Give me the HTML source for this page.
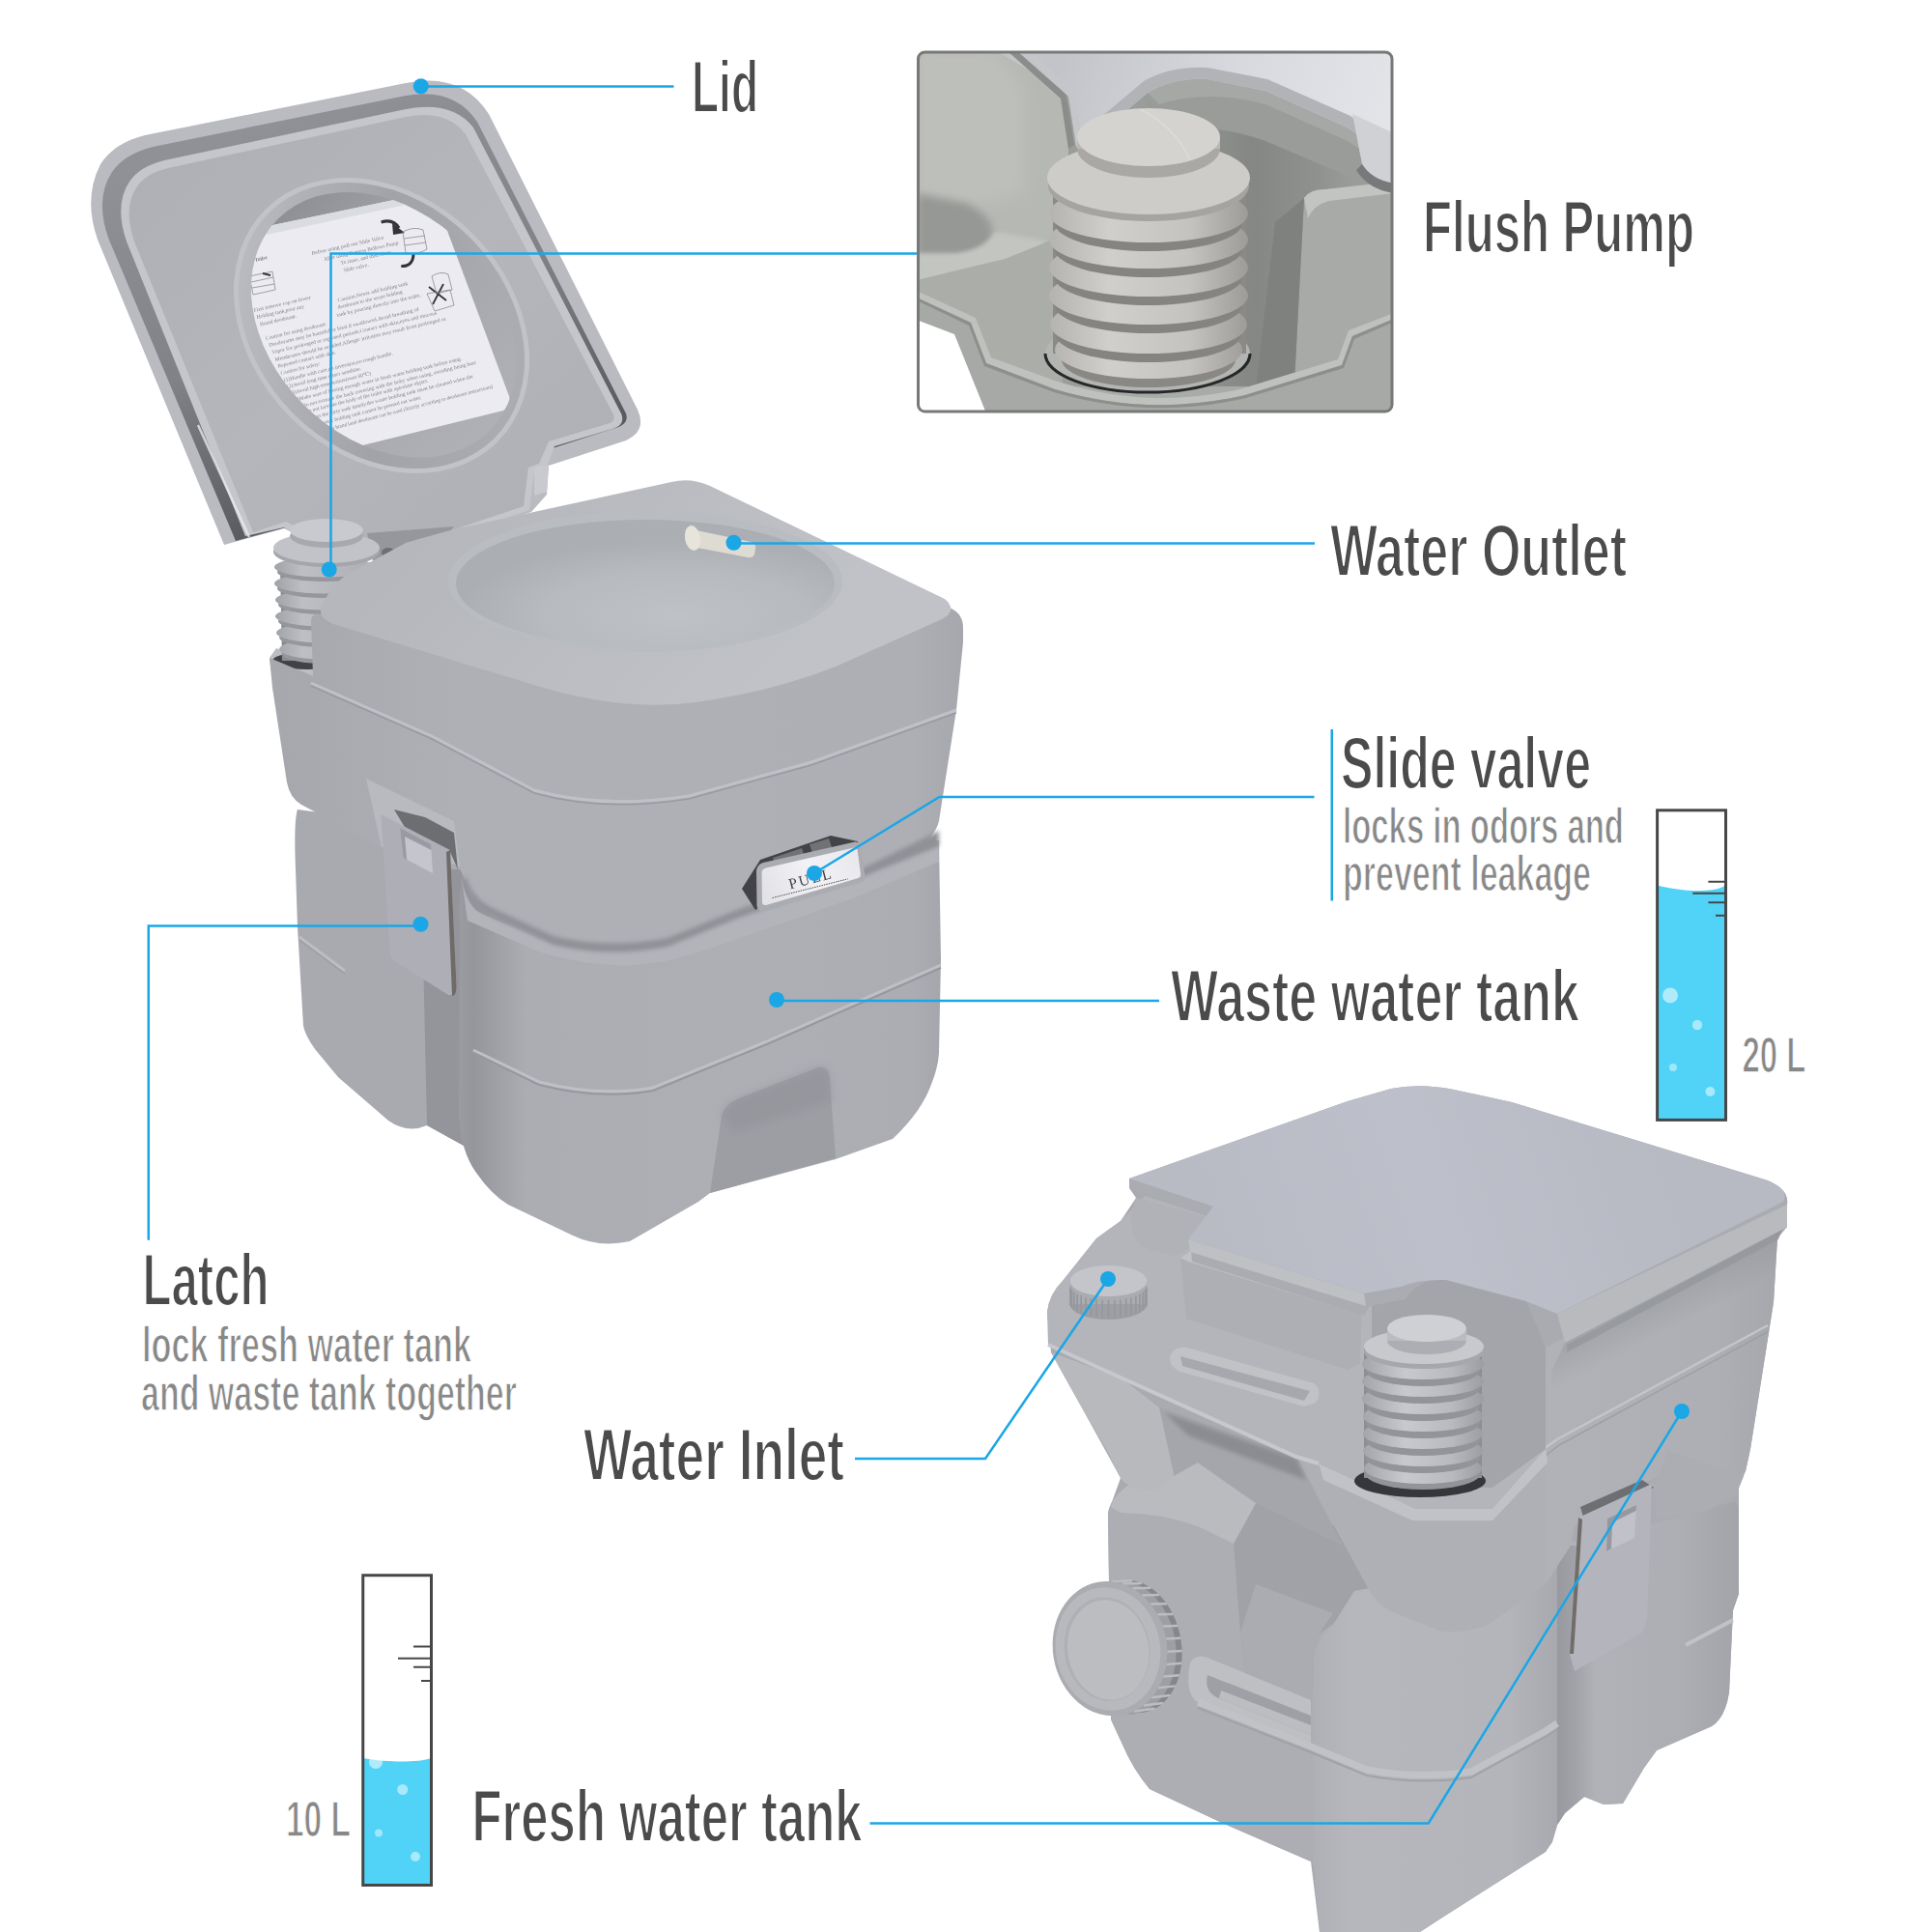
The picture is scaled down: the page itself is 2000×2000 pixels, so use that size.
<!DOCTYPE html>
<html lang="en"><head><meta charset="utf-8"><title>Portable toilet features</title>
<style>html,body{margin:0;padding:0;background:#fff}body{width:2000px;height:2000px;overflow:hidden}svg{display:block}</style>
</head><body>
<svg width="2000" height="2000" viewBox="0 0 2000 2000">
<defs>
<linearGradient id="gLidFace" x1="0" y1="0" x2="1" y2="1">
  <stop offset="0" stop-color="#a8aaaf"/><stop offset=".5" stop-color="#afb1b6"/><stop offset="1" stop-color="#a8aaaf"/>
</linearGradient>
<linearGradient id="gLidWall" gradientUnits="userSpaceOnUse" x1="120" y1="180" x2="250" y2="560">
  <stop offset="0" stop-color="#8a8c91"/><stop offset=".55" stop-color="#7b7d82"/><stop offset="1" stop-color="#55565a"/>
</linearGradient>
<linearGradient id="gOvalFloor" gradientUnits="userSpaceOnUse" x1="-150" y1="0" x2="150" y2="0">
  <stop offset="0" stop-color="#8a8c91"/><stop offset=".3" stop-color="#9c9ea3"/><stop offset="1" stop-color="#a9abb0"/>
</linearGradient>
<clipPath id="cpOval"><ellipse cx="0" cy="0" rx="152" ry="112"/></clipPath>
<filter id="blur1"><feGaussianBlur stdDeviation="1"/></filter>
<filter id="blur2"><feGaussianBlur stdDeviation="2"/></filter>
<filter id="blur4"><feGaussianBlur stdDeviation="4"/></filter>
<filter id="blur8"><feGaussianBlur stdDeviation="8"/></filter>
<filter id="blur14"><feGaussianBlur stdDeviation="14"/></filter>
<linearGradient id="gDeck" gradientUnits="userSpaceOnUse" x1="500" y1="500" x2="760" y2="740">
  <stop offset="0" stop-color="#b0b2b7"/><stop offset="1" stop-color="#bbbdc1"/>
</linearGradient>
<radialGradient id="gBowl" gradientUnits="userSpaceOnUse" cx="700" cy="640" r="230" gradientTransform="translate(0 420) scale(1 .34)">
  <stop offset="0" stop-color="#b9bcbf"/><stop offset=".6" stop-color="#b2b5b8"/><stop offset="1" stop-color="#a6a9ad"/>
</radialGradient>
<linearGradient id="gUpFront" gradientUnits="userSpaceOnUse" x1="300" y1="0" x2="1000" y2="0">
  <stop offset="0" stop-color="#a1a3a8"/><stop offset=".25" stop-color="#a9abb0"/><stop offset=".6" stop-color="#a9abb0"/><stop offset=".92" stop-color="#a8aaaf"/><stop offset="1" stop-color="#a0a2a7"/>
</linearGradient>
<linearGradient id="gLowFront" gradientUnits="userSpaceOnUse" x1="300" y1="0" x2="980" y2="0">
  <stop offset="0" stop-color="#9c9ea3"/><stop offset=".2" stop-color="#a4a6ab"/><stop offset=".28" stop-color="#8f9196"/><stop offset=".36" stop-color="#a6a8ad"/><stop offset=".7" stop-color="#a8aaaf"/><stop offset=".95" stop-color="#a6a8ad"/><stop offset="1" stop-color="#9ea0a5"/>
</linearGradient>
<linearGradient id="gBellows" gradientUnits="userSpaceOnUse" x1="283" y1="0" x2="385" y2="0">
  <stop offset="0" stop-color="#9a9ca1"/><stop offset=".3" stop-color="#b8babe"/><stop offset="1" stop-color="#a8aaaf"/>
</linearGradient>
<linearGradient id="gLid2" gradientUnits="userSpaceOnUse" x1="1250" y1="1300" x2="1700" y2="1150">
  <stop offset="0" stop-color="#b1b4bd"/><stop offset=".5" stop-color="#b6b9c3"/><stop offset="1" stop-color="#b0b3bc"/>
</linearGradient>
<linearGradient id="gBellows2" gradientUnits="userSpaceOnUse" x1="1408" y1="0" x2="1542" y2="0">
  <stop offset="0" stop-color="#9a9ca1"/><stop offset=".35" stop-color="#c0c2c6"/><stop offset=".7" stop-color="#b1b3b7"/><stop offset="1" stop-color="#8f9196"/>
</linearGradient>
<linearGradient id="gT2Right" gradientUnits="userSpaceOnUse" x1="1600" y1="0" x2="1850" y2="0">
  <stop offset="0" stop-color="#a9abb0"/><stop offset=".7" stop-color="#a6a8ad"/><stop offset="1" stop-color="#9d9fa4"/>
</linearGradient>
<linearGradient id="gT2Low" gradientUnits="userSpaceOnUse" x1="1150" y1="0" x2="1800" y2="0">
  <stop offset="0" stop-color="#a2a4a9"/><stop offset=".3" stop-color="#a9abb0"/><stop offset=".62" stop-color="#acaeb3"/><stop offset=".72" stop-color="#999ba0"/><stop offset=".8" stop-color="#a5a7ac"/><stop offset="1" stop-color="#9b9da2"/>
</linearGradient>
<linearGradient id="gT2RightLow" gradientUnits="userSpaceOnUse" x1="1650" y1="0" x2="1800" y2="0">
  <stop offset="0" stop-color="#a9abb0"/><stop offset=".6" stop-color="#a5a7ac"/><stop offset="1" stop-color="#9b9da2"/>
</linearGradient>
<linearGradient id="gT2Groove" gradientUnits="userSpaceOnUse" x1="1610" y1="0" x2="1652" y2="0">
  <stop offset="0" stop-color="#8f9196"/><stop offset=".5" stop-color="#9a9ca1"/><stop offset="1" stop-color="#a9abb0"/>
</linearGradient>
<linearGradient id="gT2Col" gradientUnits="userSpaceOnUse" x1="1360" y1="0" x2="1612" y2="0">
  <stop offset="0" stop-color="#a7a9ae"/><stop offset=".15" stop-color="#aeb0b5"/><stop offset=".8" stop-color="#acaeb3"/><stop offset="1" stop-color="#a0a2a7"/>
</linearGradient>
<clipPath id="cpInset"><rect x="950.5" y="54" width="490.500" height="372" rx="7"/></clipPath>
<linearGradient id="gInsRing" gradientUnits="userSpaceOnUse" x1="1086" y1="0" x2="1294" y2="0">
  <stop offset="0" stop-color="#b4b3b0"/><stop offset=".3" stop-color="#d0cfcc"/><stop offset=".7" stop-color="#c4c3c0"/><stop offset="1" stop-color="#9b9a97"/>
</linearGradient>
<linearGradient id="gInsLid" gradientUnits="userSpaceOnUse" x1="1100" y1="60" x2="1440" y2="160">
  <stop offset="0" stop-color="#c3c4ca"/><stop offset=".5" stop-color="#d8d9de"/><stop offset="1" stop-color="#e4e5e9"/>
</linearGradient>
<linearGradient id="gInsWell" gradientUnits="userSpaceOnUse" x1="1180" y1="0" x2="1440" y2="0">
  <stop offset="0" stop-color="#9b9d9b"/><stop offset=".45" stop-color="#858785"/><stop offset=".7" stop-color="#8f918f"/><stop offset="1" stop-color="#a5a7a5"/>
</linearGradient>
<clipPath id="cpOvalFloor"><ellipse cx="1" cy="-2" rx="155" ry="117" transform="translate(395 337) rotate(45)"/></clipPath>
<linearGradient id="gOvalWall" gradientUnits="userSpaceOnUse" x1="-120" y1="100" x2="120" y2="-100">
  <stop offset="0" stop-color="#b4b6ba"/><stop offset=".5" stop-color="#9c9ea3"/><stop offset="1" stop-color="#a6a8ad"/>
</linearGradient>
<filter id="fBright2" x="0" y="0" width="100%" height="100%" color-interpolation-filters="sRGB"><feComponentTransfer><feFuncR type="linear" slope="1" intercept=".03"/><feFuncG type="linear" slope="1" intercept=".03"/><feFuncB type="linear" slope="1" intercept=".03"/></feComponentTransfer></filter>
<linearGradient id="gPull" gradientUnits="userSpaceOnUse" x1="790" y1="930" x2="890" y2="880">
  <stop offset="0" stop-color="#dcdce0"/><stop offset=".5" stop-color="#ededf0"/><stop offset="1" stop-color="#e2e2e6"/>
</linearGradient>
<filter id="fBright1" x="0" y="0" width="100%" height="100%" color-interpolation-filters="sRGB"><feComponentTransfer><feFuncR type="linear" slope="1" intercept=".022"/><feFuncG type="linear" slope="1" intercept=".022"/><feFuncB type="linear" slope="1" intercept=".026"/></feComponentTransfer></filter>
<linearGradient id="gLidShadow2" gradientUnits="userSpaceOnUse" x1="1730" y1="1332" x2="1748" y2="1368">
  <stop offset="0" stop-color="#8e9095" stop-opacity=".55"/><stop offset="1" stop-color="#8e9095" stop-opacity="0"/>
</linearGradient>

</defs>
<rect width="2000" height="2000" fill="#fff"/>
<!-- ===== main toilet (lid open) ===== -->
<g id="lid1" filter="url(#fBright1)">
  <path d="M232 564L101 248Q86 205 104 170Q118 148 150 140L420 86Q478 74 506 118L660 424Q670 446 648 456L568 482L566 512L550 530L400 580L330 565L294 547Z" fill="#b4b6ba"/>
  <path d="M244 560L112 246Q98 205 116 178Q128 160 158 152L420 99Q470 90 494 126L648 428Q652 440 634 444L572 464L300 545Z" fill="url(#gLidWall)"/>
  <path d="M254 555L131 250Q118 212 134 188Q145 172 170 166L420 113Q468 104 490 132L643 428Q648 440 634 444L574 462L566 484L553 488L548 528L400 578L330 562L294 546Z" fill="#bfc1c5"/>
  <path d="M262 551L139 250Q127 214 142 193Q152 179 174 174L420 121Q462 113 482 139L635 429Q638 437 628 439L568 457L558 480L547 484L542 524L400 572L330 556L296 540Z" fill="url(#gLidFace)"/>
  <path d="M205 440L258 556" fill="none" stroke="#e4e5e8" stroke-width="2.5" opacity=".8"/>
  <!-- hinge arm -->
  <path d="M553 484L568 481L566 509L553 513Z" fill="#c3c5c9"/>
  <!-- oval recess with sticker -->
  <g transform="translate(395 337) rotate(45)">
    <ellipse cx="0" cy="0" rx="170" ry="134" fill="#bcbec2"/>
    <ellipse cx="0" cy="0" rx="165" ry="129" fill="url(#gOvalWall)"/>
    <ellipse cx="1" cy="-2" rx="155" ry="117" fill="url(#gOvalFloor)"/>
  </g>
  <g clip-path="url(#cpOvalFloor)">
    <path d="M200 250L444 199.500Q448 199 450 204L527 410Q530 420 521 425L250 492Z" fill="#e6e6eb"/>
    <path d="M200 250L444 199.500L448 206L206 258Z" fill="#d6d7dc"/>
    <!-- pictograms on sticker -->
    <g fill="none" stroke="#2f2f32" stroke-width="3" stroke-linecap="butt">
      <path d="M394.600 230Q407 226 413 236"/><path d="M415.300 275.500Q428 276 428 262"/>
    </g>
    <path d="M406 231L419 241L407 243Z" fill="#2f2f32"/>
    <g fill="none" stroke="#2f2f32" stroke-width="1.8"><path d="M444 297L462 311M459 294L448 315"/></g>
    <g fill="none" stroke="#7a7a7e" stroke-width=".7">
      <path d="M417 240Q428 234 438 238L442 258Q432 264 420 262ZM418 247L440 244M419 254L441 251"/>
      <path d="M447 286Q456 280 464 284L468 300L452 304ZM442 304L466 300L470 316L450 322Z"/>
      <path d="M258 286L282 281L285 300L262 305ZM260 292L283 287M261 298L284 294"/>
    </g>
    <path d="M272 283L280 285" stroke="#2f2f32" stroke-width="2" fill="none"/>
<g font-family="'Liberation Serif','DejaVu Serif',serif" font-size="5.6" fill="#38383c" opacity=".62">
  <text transform="translate(248.7 274.2) rotate(-12)" font-weight="bold">rtable Toilet</text>
  <text transform="translate(263 323) rotate(-13)" textLength="60.5" lengthAdjust="spacingAndGlyphs">First remove cap on lower</text>
  <text transform="translate(266 330) rotate(-13)">Holding tank,pour any</text>
  <text transform="translate(269.4 337.4) rotate(-13)">Brand deodorant.</text>
  <text transform="translate(323 263.9) rotate(-12.5)" textLength="76.5" lengthAdjust="spacingAndGlyphs">Before using pull out Slide Valve</text>
  <text transform="translate(335.6 270) rotate(-12.5)">After using Depress Bellows Pump</text>
  <text transform="translate(353 274) rotate(-12.5)">To rinse, and then close</text>
  <text transform="translate(356 281.5) rotate(-12.5)">Slide valve.</text>
  <text transform="translate(350 312.5) rotate(-13.6)" textLength="74.6" lengthAdjust="spacingAndGlyphs">Caution.Never add holding tank</text>
  <text transform="translate(350 319.8) rotate(-13.6)">deodorant to the waste holding</text>
  <text transform="translate(349 328) rotate(-13.6)" textLength="89.5" lengthAdjust="spacingAndGlyphs">tank by pouring directly into the toilet.</text>
  <text transform="translate(275.6 351.9) rotate(-13.5)">Caution for using deodorant:</text>
  <text transform="translate(278.7 359) rotate(-13.5)" textLength="159.7" lengthAdjust="spacingAndGlyphs">Deodorants may be harmful or fatal if swallowed.Avoid breathing of</text>
  <text transform="translate(281.8 366.4) rotate(-13.5)" textLength="175.5" lengthAdjust="spacingAndGlyphs">Vapor for prolonged or repeated periods.Contact with skin,eyes and mucous</text>
  <text transform="translate(284.9 374) rotate(-13.5)" textLength="182" lengthAdjust="spacingAndGlyphs">Membranes should be avoided.Allergic irritation may result from prolonged or</text>
  <text transform="translate(288 380.8) rotate(-13.7)">Repeated contact with skin.</text>
  <text transform="translate(291 388) rotate(-13.8)">Caution for safety:</text>
  <text transform="translate(294.2 395.3) rotate(-13.9)" textLength="116.2" lengthAdjust="spacingAndGlyphs">(1)Handle with care,no inversion,no rough handle.</text>
  <text transform="translate(297.3 402) rotate(-13.9)">(2)Avoid long time direct sunshine.</text>
  <text transform="translate(300.4 408.8) rotate(-13.9)">(3)Avoid high temperature(over 60℃)</text>
  <text transform="translate(303.5 416) rotate(-13.9)" textLength="180.3" lengthAdjust="spacingAndGlyphs">(4)Make sure of having enough water in fresh water holding tank before using.</text>
  <text transform="translate(306.6 423.3) rotate(-14)" textLength="192.1" lengthAdjust="spacingAndGlyphs">(5)Do not extrude the back covering with the boby when using, avoiding being hurt</text>
  <text transform="translate(309.7 429.5) rotate(-14.2)">(6)Do not lacerate the body of the toilet with apiculate object.</text>
  <text transform="translate(312.8 436.7) rotate(-14.4)" textLength="182.9" lengthAdjust="spacingAndGlyphs">(7)Clean the dirty tank timely.the waste holding tank must be cleaned when the</text>
  <text transform="translate(320 443) rotate(-14.5)">Flush water holding tank cannot be pressed out water.</text>
  <text transform="translate(332.5 448) rotate(-14.6)" textLength="184" lengthAdjust="spacingAndGlyphs">(8)The brand land deodorant can be used (Strictly according to deodorant instructions)</text>
</g>
  </g>
</g>
<g id="pump1" filter="url(#fBright1)">
  <path d="M380 552L470 545L440 580L388 590Z" fill="#909297"/>
  <ellipse cx="402" cy="572" rx="7" ry="5" fill="#6a6b6f"/>
  <!-- base block under pump -->
  <path d="M279 681L286 671L330 688L324 702Z" fill="#b7b9bd"/>
  <path d="M279 681L324 700V760L290 760Z" fill="#a3a5aa"/>
  <ellipse cx="318" cy="684" rx="36" ry="9" fill="#3c3d40"/>
  <!-- bellows -->
  <g>
    <path d="M290 585H384V684H292Z" fill="#84868b"/>
    <ellipse cx="336" cy="677" rx="44" ry="10" fill="#909297"/>
    <ellipse cx="336" cy="672" rx="47" ry="10.5" fill="url(#gBellows)"/>
    <ellipse cx="336" cy="660" rx="47" ry="10" fill="#909297"/>
    <ellipse cx="336" cy="655" rx="50" ry="10.5" fill="url(#gBellows)"/>
    <ellipse cx="336" cy="643" rx="48" ry="10" fill="#909297"/>
    <ellipse cx="336" cy="638" rx="51" ry="10.5" fill="url(#gBellows)"/>
    <ellipse cx="336" cy="626" rx="48" ry="10" fill="#909297"/>
    <ellipse cx="336" cy="621" rx="51" ry="10.5" fill="url(#gBellows)"/>
    <ellipse cx="336" cy="609" rx="49" ry="10" fill="#909297"/>
    <ellipse cx="336" cy="604" rx="52" ry="10.5" fill="url(#gBellows)"/>
    <ellipse cx="336" cy="592" rx="49" ry="10" fill="#909297"/>
    <ellipse cx="336" cy="587" rx="52" ry="10.5" fill="url(#gBellows)"/>
    <ellipse cx="338" cy="571" rx="55" ry="16" fill="#9fa1a6"/>
    <ellipse cx="338" cy="567" rx="55" ry="16" fill="#bcbec2"/>
    <ellipse cx="338" cy="555" rx="38" ry="12" fill="#a2a4a9"/>
    <ellipse cx="338" cy="549" rx="38" ry="12" fill="#c3c5c9"/>
  </g>
</g>
<g id="body1" filter="url(#fBright1)">
  <!-- lower tank: left section -->
  <path d="M308 838Q304 850 306 900L308 960L314 1062Q316 1072 326 1086L350 1115L402 1160Q422 1174 442 1165L480 1186V900L400 850Z" fill="#a3a5aa"/>
  <!-- groove between sections -->
  <path d="M436 900H480V1186L442 1165Z" fill="#8e9095"/>
  <!-- lower tank: front section -->
  <path d="M478 905Q474 940 476 960L475 1155Q477 1192 493 1214Q508 1236 526 1247L593 1279Q620 1292 652 1285L723 1244L735 1235L865 1200L924 1179Q955 1150 965 1120Q971 1105 972 1090L974 993L972 870L600 880Z" fill="url(#gLowFront)"/>
  <!-- foot recess -->
  <path d="M747 1155Q750 1143 765 1137L847 1105Q858 1103 859 1117L865 1199L735 1235Z" fill="#97999e"/>
  <path d="M747 1155Q750 1143 765 1137L847 1105Q858 1103 859 1117L861 1140L760 1172Z" fill="#8c8e93" opacity=".6" filter="url(#blur4)"/>
  <!-- top shelf of lower tank -->
  <path d="M478 910Q484 940 499 946L573 978Q629 990 691 978L765 948L897 904L971 875L972 892L883 930L735 982Q690 998 646 1000Q600 998 560 986L484 953Z" fill="#adafb4"/>
  <!-- lower ridge line -->
  <path d="M490 1087L558 1120Q620 1136 676 1126L794 1078L974 999" fill="none" stroke="#b9bbbf" stroke-width="3"/>
  <path d="M490 1090L558 1123Q620 1139 676 1129L794 1081L974 1002" fill="none" stroke="#919398" stroke-width="2"/>
  <path d="M310 970L357 1005" fill="none" stroke="#b6b8bc" stroke-width="3"/>
  <path d="M310 973L357 1008" fill="none" stroke="#97999e" stroke-width="1.5"/>
  <!-- upper tank silhouette (front faces) -->
  <path d="M279 681L324 700L322 642Q324 630 340 640L420 600L700 560L985 630Q997 636 997 650V665L990 735L972 850Q965 880 897 904L765 948L691 978Q629 990 573 976L510 947Q488 938 482 912L473 893L395 877L312 833Q300 826 297 810L282 712Z" fill="url(#gUpFront)"/>
  <!-- latch recess -->
  <path d="M379 806L470 850L476 896L395 877Z" fill="#b3b5b9"/>
  <!-- shadow under upper tank bottom edge -->
  <path d="M482 905Q488 930 510 940L573 969Q629 983 691 971L765 941L897 897L972 860L972 876L897 906L765 950L691 980Q629 992 573 978L510 949Q488 940 480 914Z" fill="#8a8c91" filter="url(#blur2)"/>
  <!-- upper ridge line -->
  <path d="M322 707L447 762L553 818Q624 838 713 824L840 789L990 735" fill="none" stroke="#babcc0" stroke-width="3"/>
  <path d="M322 710L447 765L553 821Q624 841 713 827L840 792L990 738" fill="none" stroke="#94969b" stroke-width="1.6"/>
  <!-- deck top -->
  <path d="M357 596Q340 610 332 630Q330 640 345 646L540 705Q640 738 720 727Q800 716 865 690L975 641Q992 632 978 620L735 503Q715 494 695 499L470 548Q440 556 420 562Z" fill="url(#gDeck)"/>
  <!-- bowl -->
  <ellipse cx="668" cy="602" rx="204" ry="73" fill="#b4b7ba"/>
  <ellipse cx="668" cy="604" rx="196" ry="66" fill="url(#gBowl)"/>
  <!-- nozzle -->
  <path d="M716 548L778 561Q783 563 782 569L781 574Q779 578 774 577L716 566Z" fill="#d9d6cc"/>
  <ellipse cx="717" cy="557" rx="8" ry="13" fill="#e2dfd6" transform="rotate(-10 717 557)"/>
  <!-- latch -->
  <path d="M408 838L440 846L470 862L474 900L466 882L420 858Z" fill="#68696c"/>
  <path d="M394.300 843L466 880L472.600 1022Q472 1031 464 1030L410 996Q404 992 403.600 985Z" fill="#a9a9b1"/>
  <path d="M466 880L472.600 1022Q472 1031 468 1031L462 882Z" fill="#6a6663"/>
  <path d="M414 857L446 874L448 904L417.500 888Z" fill="#bfc0c7"/>
  <path d="M414 857L446 874L446.500 880L419 866L421 890L417.500 888Z" fill="#94959c"/>
  <!-- PULL handle -->
  <path d="M768 920L787 890L860 865L888 871L893 905L790 936L782 942Z" fill="#3e3e41"/>
  <path d="M800 888L830 878L834 890L804 900ZM838 874L858 868L862 880L842 886Z" fill="#6c6d70"/>
  <path d="M790 893L885 871.500Q889.500 871.200 890.500 876L895.500 907Q895.500 912 891 913.500L790 943Q784.500 943.500 783.500 938L783 901Q784 895 790 893Z" fill="#a6a7ab"/>
  <path d="M793 898.500L884 877.500Q887 877 887.600 880L891 905Q891 908 888.500 909L793 937Q789.500 937.500 789 934.500L788.500 903Q789 899.500 793 898.500Z" fill="url(#gPull)"/>
  <text transform="translate(818 920.400) rotate(-14.700)" font-family="'Liberation Serif',serif" font-size="15.5" fill="#3a3a3e" textLength="45" lengthAdjust="spacing">PULL</text>
  <path d="M799.500 929.500L877.700 909.900" stroke="#4a4a4e" stroke-width="1" stroke-dasharray="1.5 1" fill="none"/>
</g>

<!-- ===== flush pump inset photo ===== -->
<g id="inset">
  <g clip-path="url(#cpInset)">
    <rect x="949" y="52" width="494" height="376" fill="#a9aba8"/>
    <!-- back wall of pump well -->
    <path d="M1100 60H1443V350L1300 400H1100Z" fill="url(#gInsWell)"/>
    <!-- hinge barrel -->
    <path d="M1188 96Q1215 80 1250 82L1310 94L1395 132L1443 165V215L1395 182L1310 146Q1250 124 1200 140Z" fill="#9a9c99"/>
    <path d="M1188 96Q1215 80 1250 82L1310 94L1395 132L1443 165V178L1395 146L1310 108Q1250 92 1200 108Z" fill="#a6a8a5"/>
    <!-- left block -->
    <path d="M949 52H1070L1098 82Q1106 92 1106 120V230L1085 250L1030 262L949 300Z" fill="#b6b8b4"/>
    <path d="M949 52H1030L1060 90V200L949 230Z" fill="#bdbfbb" filter="url(#blur8)"/>
    <!-- finger hollow on left block -->
    <path d="M949 200L1000 210Q1030 225 1028 245Q1020 268 985 272L949 274Z" fill="#969895" filter="url(#blur4)"/>
    <path d="M949 262L990 262Q1020 258 1030 240L1085 250L1060 278L949 300Z" fill="#c3c5c1" filter="url(#blur2)"/>
    <!-- lower face of left block -->
    <path d="M949 290L1040 268L1085 250L1106 232V330L1094 394L1026 370L1010 329L949 302Z" fill="#abada9"/>
    <!-- right block -->
    <path d="M1350 205Q1356 196 1372 196L1443 188V345L1398 352L1384 384L1340 396Z" fill="#a8aaa7"/>
    <path d="M1350 205Q1356 196 1372 196L1443 188V200L1376 208Q1360 212 1354 226Z" fill="#c2c4c1"/>
    <path d="M1320 230L1350 205L1340 396L1300 402Z" fill="#7f817f"/>
    <!-- well floor + rim -->
    <path d="M949 301L1010 329L1026 370L1095 395Q1190 425 1287 402L1385 372L1396 342L1443 324V428H949Z" fill="#a7a9a6"/>
    <path d="M949 301L1010 329L1026 370L1095 395Q1190 425 1287 402L1385 372L1396 342L1443 324V330L1400 348L1389 378L1289 409Q1190 432 1092 403L1021 376L1005 334L949 308Z" fill="#bfc1be"/>
    <path d="M949 308L1005 334L1021 376L1092 403Q1190 432 1289 409L1389 378L1400 348L1443 330V333L1402 351L1391 381L1290 412Q1190 435 1091 406L1019 379L1003 337L949 311Z" fill="#8d8f8c"/>
    <path d="M949 331L988 346L1021 428H949Z" fill="#fff"/>
    <!-- lid -->
    <path d="M1030 52H1443V165L1395 132L1310 94L1250 82Q1215 80 1188 96L1150 128L1120 150L1112 100Z" fill="url(#gInsLid)"/>
    <path d="M1052 52L1104 98L1112 150L1106 154L1098 102L1042 52Z" fill="#8b8d8b"/>
    <path d="M1066 52L1112 96L1120 150L1114 152L1106 100L1058 52Z" fill="#c5c6ca"/>
    <path d="M1188 96Q1215 80 1250 82L1310 94L1395 132L1443 165V152L1398 120L1312 82L1250 70Q1212 68 1184 84L1146 116L1120 136V150L1150 128Z" fill="#b1b3b6"/>
    <path d="M1400 118L1443 138V190Q1420 186 1410 170Z" fill="#d0d1d5"/>
    <path d="M1410 170Q1420 186 1443 190V200Q1416 196 1404 176Z" fill="#77797a"/>
    <!-- pump -->
    <ellipse cx="1188" cy="366" rx="106" ry="40" fill="#b3b5b2"/>
    <path d="M1082 366A106 40 0 0 0 1294 366" fill="none" stroke="#262728" stroke-width="3"/>
    <path d="M1090 190H1290V366H1090Z" fill="#8b8a87"/>
    <g>
      <ellipse cx="1189" cy="372" rx="90" ry="29" fill="#898885"/><ellipse cx="1189" cy="362" rx="97" ry="30" fill="url(#gInsRing)"/>
      <ellipse cx="1189" cy="346" rx="96" ry="29" fill="#858481"/><ellipse cx="1189" cy="336" rx="102" ry="30" fill="url(#gInsRing)"/>
      <ellipse cx="1189" cy="316" rx="97" ry="29" fill="#858481"/><ellipse cx="1189" cy="306" rx="103" ry="30" fill="url(#gInsRing)"/>
      <ellipse cx="1189" cy="287" rx="97" ry="29" fill="#858481"/><ellipse cx="1189" cy="277" rx="103" ry="30" fill="url(#gInsRing)"/>
      <ellipse cx="1189" cy="258" rx="97" ry="29" fill="#858481"/><ellipse cx="1189" cy="248" rx="103" ry="30" fill="url(#gInsRing)"/>
      <ellipse cx="1189" cy="231" rx="97" ry="29" fill="#858481"/><ellipse cx="1189" cy="221" rx="103" ry="30" fill="url(#gInsRing)"/>
    </g>
    <ellipse cx="1189" cy="192" rx="104" ry="37" fill="#a5a4a1"/>
    <ellipse cx="1189" cy="184" rx="105" ry="38" fill="#cdccc9"/>
    <ellipse cx="1189" cy="154" rx="74" ry="30" fill="#a9a8a5"/>
    <path d="M1115 142H1263V154H1115Z" fill="#b9b8b5"/>
    <ellipse cx="1189" cy="142" rx="74" ry="30" fill="#d4d3d0"/>
    <path d="M1180 113Q1215 130 1232 165" fill="none" stroke="#e0dfdc" stroke-width="1.2"/>
  </g>
  <rect x="950.500" y="54" width="490.500" height="372" rx="7" fill="none" stroke="#787878" stroke-width="3"/>
</g>

<!-- ===== second toilet (lid closed, rear view) ===== -->
<g id="toilet2" filter="url(#fBright2)">
  <!-- base silhouette to avoid gaps -->
  <path d="M1169 1220L1395 1140L1440 1127Q1470 1121 1505 1128L1565 1141L1830 1222Q1853 1232 1850 1247V1270L1840 1282L1836 1348L1812 1500L1807 1523L1800 1540V1650L1794 1667L1790 1752Q1786 1778 1772 1787L1715 1812L1702 1830L1680 1867L1660 1868L1640 1860L1620 1877L1610 1892L1600 1917L1490 1987L1470 2000H1366L1357 1927L1265 1887L1190 1852Q1172 1830 1162 1806L1150 1780L1147 1566L1160 1530L1117 1452L1088 1400L1084 1358Q1086 1340 1100 1326L1135 1282L1160 1264L1176 1240L1169 1230Z" fill="#a2a4a9"/>
  <!-- lower tank: right section -->
  <path d="M1712 1577L1797 1554L1800 1562V1650L1794 1667L1790 1752Q1786 1778 1772 1787L1715 1812L1702 1830L1680 1867L1660 1868L1640 1860L1620 1877L1610 1892V1600Z" fill="url(#gT2RightLow)"/>
  <!-- groove -->
  <path d="M1610 1600H1652V1862L1640 1860L1620 1877L1610 1892Z" fill="url(#gT2Groove)"/>
  <!-- lower tank: left block & channel -->
  <path d="M1147 1566Q1150 1546 1180 1530L1240 1514L1420 1560V1950L1357 1927L1265 1887L1190 1852Q1172 1830 1162 1806L1150 1780Z" fill="#a5a7ac"/>
  <!-- channel (darker) -->
  <path d="M1277 1598L1300 1556L1420 1590V1650L1365 1692L1360 1717L1357 1772L1290 1745L1284 1690Z" fill="#999ba0"/>
  <path d="M1284 1690L1300 1640L1380 1670L1365 1692L1360 1717L1357 1772L1290 1745Z" fill="#a3a5aa"/>
  <!-- top face of left block -->
  <path d="M1150 1560Q1152 1546 1180 1530L1240 1514L1300 1556L1277 1598L1240 1580Q1200 1566 1160 1566Z" fill="#b2b4b8"/>
  <!-- handle slot -->
  <path d="M1232 1722Q1236 1712 1250 1716L1357 1760V1808L1240 1762Q1226 1754 1232 1722Z" fill="#b6b8bc"/>
  <path d="M1250 1734L1357 1776V1796L1262 1758Q1246 1752 1250 1734Z" fill="#97999e"/>
  <path d="M1264 1750L1357 1786V1796L1262 1758Z" fill="#b4b6ba"/>
  <!-- lower tank: front column -->
  <path d="M1360 1717Q1362 1698 1380 1682L1402 1647L1440 1640L1612 1620V1890L1607 1907L1600 1917L1490 1987L1470 2000H1366L1360 1930Z" fill="url(#gT2Col)"/>
  <!-- ridge band -->
  <path d="M1240 1762L1357 1808L1415 1832Q1470 1842 1523 1834L1600 1792L1612 1784" fill="none" stroke="#b9bbbf" stroke-width="7"/>
  <path d="M1240 1768L1357 1814L1415 1838Q1470 1848 1523 1840L1600 1798L1612 1790" fill="none" stroke="#999ba0" stroke-width="2"/>
  <path d="M1745 1703L1794 1677" fill="none" stroke="#b9bbbf" stroke-width="4"/>
  <!-- big drain cap -->
  <g transform="translate(1147 1707) rotate(-10)">
    <ellipse cx="26" cy="2" rx="50" ry="69" fill="#7e8085"/>
    <ellipse cx="16" cy="1" rx="54" ry="70" fill="#96989d"/>
    <path d="M15.3 -68.2L37.2 -65.2M26.0 -63.9L46.3 -61.0M35.8 -57.3L54.7 -54.5M44.4 -48.6L62.0 -45.9M51.5 -38.1L67.9 -35.6M56.7 -26.2L72.4 -23.8M59.9 -13.4L75.1 -11.2M61.0 0.0L76.0 2.0M59.9 13.4L75.1 15.2M56.7 26.2L72.4 27.8M51.5 38.1L67.9 39.6M44.4 48.6L62.0 49.9M35.8 57.3L54.7 58.5M26.0 63.9L46.3 65.0M15.3 68.2L37.2 69.2" stroke="#b4b6ba" stroke-width="2.5" fill="none"/>
    <ellipse cx="2" cy="0" rx="59" ry="70" fill="#a3a5aa"/>
    <ellipse cx="0" cy="0" rx="54" ry="64" fill="#b0b2b6"/>
    <ellipse cx="-1" cy="0" rx="44" ry="54" fill="#a7a9ae"/>
    <ellipse cx="0" cy="1" rx="42" ry="52" fill="#b4b6ba"/>
  </g>
  <!-- upper tank: right face -->
  <path d="M1600 1395L1845 1268L1840 1282L1836 1348L1812 1500L1807 1523Q1800 1534 1790 1532L1740 1508L1727 1502L1720 1525L1630 1580L1626 1600L1600 1640Z" fill="url(#gT2Right)"/>
  <!-- right-bottom block -->
  <path d="M1712 1537L1727 1502L1805 1528L1797 1548L1765 1565L1715 1573Z" fill="#a4a6ab"/>
  <!-- ridge on right face -->
  <path d="M1595 1502L1612 1490L1830 1372" fill="none" stroke="#bcbec2" stroke-width="2.5"/>
  <path d="M1597 1509L1614 1496L1831 1378" fill="none" stroke="#96989d" stroke-width="1.5"/>
  <!-- front wedge -->
  <path d="M1342 1508L1365 1515L1465 1560H1540L1600 1500V1640L1540 1682Q1515 1692 1490 1688L1440 1668Q1424 1660 1415 1642Z" fill="#a7a9ae"/>
  <path d="M1365 1515L1465 1560H1540L1600 1500L1602 1514L1545 1574H1462L1370 1532Z" fill="#b9bbbf"/>
  <!-- dark gap under overhang -->
  <path d="M1200 1457L1342 1508L1390 1600L1300 1556L1240 1514L1215 1528Z" fill="#9d9fa4"/>
  <path d="M1205 1462L1342 1510L1352 1532L1230 1486Z" fill="#83858a" filter="url(#blur2)"/>
  <!-- left leg -->
  <path d="M1088 1400L1117 1452L1145 1500L1160 1530Q1170 1544 1195 1542Q1210 1538 1215 1526L1200 1457L1160 1426Z" fill="#b0b2b6"/>
  <!-- deck / inlet area -->
  <path d="M1084 1358Q1086 1340 1100 1326L1135 1282L1160 1264L1185 1238L1260 1262L1420 1340L1600 1395V1500L1545 1562H1465L1365 1515L1342 1508L1160 1426L1085 1392Z" fill="#acaeb3"/>
  <path d="M1085 1392L1160 1426L1342 1508L1365 1515" fill="none" stroke="#bfc1c5" stroke-width="4"/>
  <!-- tray slot -->
  <path d="M1212 1402Q1218 1392 1232 1396L1360 1432Q1370 1440 1362 1452L1350 1456L1222 1420Q1208 1414 1212 1402Z" fill="#b9bbbf"/>
  <path d="M1222 1404L1356 1440L1350 1450L1224 1414Z" fill="#9fa1a6"/>
  <!-- center knuckle block -->
  <path d="M1222 1302L1240 1290L1410 1345L1408 1412L1395 1418L1228 1365Z" fill="#a6a8ad"/>
  <path d="M1222 1302L1240 1290L1410 1345L1400 1358L1230 1306Z" fill="#b9bbbf"/>
  <!-- left knuckle -->
  <path d="M1176 1240L1256 1262L1258 1280L1215 1300L1180 1290Q1165 1270 1176 1240Z" fill="#a9abb0"/>
  <!-- inlet cap -->
  <ellipse cx="1147.500" cy="1350" rx="40" ry="16" fill="#96989d"/>
  <path d="M1107.500 1326V1350H1187.500V1326Z" fill="#a3a5aa"/>
  <path d="M1108.0 1332.5V1351.5M1109.5 1334.9V1353.9M1111.9 1337.3V1356.3M1115.1 1339.4V1358.4M1119.2 1341.3V1360.3M1124.0 1342.9V1361.9M1129.3 1344.3V1363.3M1135.1 1345.2V1364.2M1141.2 1345.8V1364.8M1147.5 1346.0V1365.0M1153.8 1345.8V1364.8M1159.9 1345.2V1364.2M1165.7 1344.3V1363.3M1171.0 1342.9V1361.9M1175.8 1341.3V1360.3M1179.9 1339.4V1358.4M1183.1 1337.3V1356.3M1185.5 1334.9V1353.9M1187.0 1332.5V1351.5" stroke="#8e9095" stroke-width="1.6" fill="none"/>
  <ellipse cx="1147.500" cy="1326" rx="40" ry="16" fill="#bcbec3"/>
  <!-- pump well shadow -->
  <path d="M1455 1340Q1470 1322 1500 1324L1580 1347L1600 1395V1500L1545 1540H1420V1345Z" fill="#9c9ea3"/>
  <!-- pump -->
  <g id="pump2">
    <ellipse cx="1470" cy="1533" rx="68" ry="17" fill="#2f3033"/>
    <path d="M1412 1395H1534V1530H1412Z" fill="#85878c"/>
    <g>
      <ellipse cx="1473" cy="1526" rx="59" ry="16" fill="#8b8d92"/><ellipse cx="1473" cy="1520" rx="61" ry="16" fill="url(#gBellows2)"/>
      <ellipse cx="1473" cy="1509" rx="59" ry="16" fill="#8b8d92"/><ellipse cx="1473" cy="1502" rx="62" ry="16" fill="url(#gBellows2)"/>
      <ellipse cx="1473" cy="1491" rx="59" ry="16" fill="#8b8d92"/><ellipse cx="1473" cy="1484" rx="62" ry="16" fill="url(#gBellows2)"/>
      <ellipse cx="1473" cy="1473" rx="59" ry="16" fill="#8b8d92"/><ellipse cx="1473" cy="1466" rx="62" ry="16" fill="url(#gBellows2)"/>
      <ellipse cx="1473" cy="1455" rx="59" ry="16" fill="#8b8d92"/><ellipse cx="1473" cy="1448" rx="63" ry="16" fill="url(#gBellows2)"/>
      <ellipse cx="1473" cy="1437" rx="59" ry="16" fill="#8b8d92"/><ellipse cx="1473" cy="1430" rx="63" ry="16" fill="url(#gBellows2)"/>
      <ellipse cx="1473" cy="1419" rx="59" ry="16" fill="#8b8d92"/><ellipse cx="1473" cy="1412" rx="63" ry="16" fill="url(#gBellows2)"/>
    </g>
    <ellipse cx="1474" cy="1399" rx="62" ry="18" fill="#9ea0a5"/>
    <ellipse cx="1474" cy="1394" rx="62" ry="18" fill="#c0c2c6"/>
    <ellipse cx="1477" cy="1388" rx="41" ry="14" fill="#a5a7ac"/>
    <path d="M1436 1375H1518V1388H1436Z" fill="#b3b5b9"/>
    <ellipse cx="1477" cy="1375" rx="41" ry="14" fill="#c7c9cd"/>
  </g>
  <!-- lid -->
  <path d="M1169 1220L1170 1230L1251 1258L1232 1284L1234 1306L1412 1362L1418 1352L1455 1345Q1470 1322 1500 1324L1580 1347L1612 1360L1620 1390L1850 1270V1247Z" fill="#a3a5aa"/>
  <path d="M1844 1274L1620 1390L1606 1420L1606 1440L1836 1318L1840 1284Z" fill="url(#gLidShadow2)"/>
  <path d="M1845 1273L1622 1392L1622 1400L1841 1283Z" fill="#8c8e93" opacity=".7"/>
  <path d="M1850 1247V1270L1620 1390L1612 1360Z" fill="#b1b3b7"/>
  <path d="M1230 1283L1412 1339L1414 1352L1232 1296Z" fill="#b7b9bd"/>
  <path d="M1169 1220L1395 1140L1440 1127Q1470 1121 1505 1128L1565 1141L1830 1222Q1853 1232 1846 1244L1612 1360L1580 1347L1497 1325Q1468 1324 1450 1332L1412 1339L1230 1283L1256 1249Z" fill="url(#gLid2)"/>
  <!-- latch 2 -->
  <path d="M1636 1560L1700 1532L1712 1540L1640 1574Z" fill="#67686b"/>
  <path d="M1634 1571L1710 1536L1705 1677L1700 1690L1630 1730L1625 1712Z" fill="#adaeb5"/>
  <path d="M1634 1571L1638 1573L1629 1712L1625 1712Z" fill="#6a6663"/>
  <path d="M1664 1572L1694 1558L1692 1592L1663 1606Z" fill="#babbc2"/>
  <path d="M1664 1572L1694 1558L1693.500 1564L1669 1576L1668 1603L1663 1606Z" fill="#909198"/>
</g>

<!-- ===== callout lines, dots, labels, gauges ===== -->
<g id="callouts" fill="none" stroke="#1ba6e6" stroke-width="2.5">
  <path d="M436 89.5H697.5"/>
  <path d="M342.5 589V262.5H949"/>
  <path d="M760 562.5H1361"/>
  <path d="M843 904L972.5 825H1360.5"/>
  <path d="M1378.75 755V932.5"/>
  <path d="M804 1036H1200"/>
  <path d="M435.5 958.5H153.75V1283.75"/>
  <path d="M885 1510H1020L1147 1324"/>
  <path d="M900.5 1887.5H1478.75L1741 1461"/>
</g>
<g id="dots" fill="#1ba6e6">
  <circle cx="435.75" cy="89.25" r="8"/>
  <circle cx="340.75" cy="589.5" r="8"/>
  <circle cx="759.5" cy="561.75" r="8"/>
  <circle cx="843" cy="904" r="8"/>
  <circle cx="804" cy="1035" r="8"/>
  <circle cx="435.5" cy="956.75" r="8"/>
  <circle cx="1147" cy="1324" r="8"/>
  <circle cx="1741" cy="1461" r="8"/>
</g>
<g id="labels" font-family="'Liberation Sans',sans-serif" font-weight="bold" lengthAdjust="spacingAndGlyphs">
 <g font-size="76.5" fill="#4b4b4b" stroke="#fff" stroke-width="2">
  <text x="716" y="115.75" textLength="69" lengthAdjust="spacingAndGlyphs">Lid</text>
  <text x="1473" y="261.25" textLength="281" lengthAdjust="spacingAndGlyphs">Flush Pump</text>
  <text x="1377" y="596.25" textLength="307" lengthAdjust="spacingAndGlyphs">Water Outlet</text>
  <text x="1388" y="816.25" textLength="259" lengthAdjust="spacingAndGlyphs">Slide valve</text>
  <text x="1212" y="1057" textLength="423" lengthAdjust="spacingAndGlyphs">Waste water tank</text>
  <text x="147.5" y="1351.25" textLength="131" lengthAdjust="spacingAndGlyphs">Latch</text>
  <text x="604" y="1531.75" textLength="270" lengthAdjust="spacingAndGlyphs">Water Inlet</text>
  <text x="488.5" y="1905.75" textLength="404" lengthAdjust="spacingAndGlyphs">Fresh water tank</text>
 </g>
 <g font-size="51" fill="#888" stroke="#fff" stroke-width="1.4">
  <text x="1390" y="872.5" textLength="291" lengthAdjust="spacingAndGlyphs">locks in odors and</text>
  <text x="1390" y="922" textLength="257" lengthAdjust="spacingAndGlyphs">prevent leakage</text>
  <text x="147" y="1409.5" textLength="341" lengthAdjust="spacingAndGlyphs">lock fresh water tank</text>
  <text x="146" y="1460" textLength="389" lengthAdjust="spacingAndGlyphs">and waste tank together</text>
  <text x="296" y="1901.25" textLength="67" lengthAdjust="spacingAndGlyphs">10 L</text>
  <text x="1803.5" y="1109.5" textLength="66" lengthAdjust="spacingAndGlyphs">20 L</text>
 </g>
</g>
<g id="gauge20">
  <path d="M1715.5 916.4C1730 920 1748 922.5 1760 922C1774 921.5 1782 920 1786.5 916V1159.5H1715.5Z" fill="#50d3f7"/>
  <g fill="#fff">
    <circle cx="1729" cy="1030.4" r="8" opacity=".55"/><circle cx="1757" cy="1061" r="5.2" opacity=".5"/>
    <circle cx="1732" cy="1105" r="4" opacity=".45"/><circle cx="1770.4" cy="1130" r="5" opacity=".5"/>
  </g>
  <g stroke="#474747" stroke-width="2" fill="none">
    <path d="M1768.4 912.8H1786M1752.2 924.8H1786M1768.4 934.2H1786M1776 947.8H1786"/>
  </g>
  <rect x="1715.6" y="838.8" width="70.9" height="320.6" fill="none" stroke="#474747" stroke-width="3"/>
</g>
<g id="gauge10">
  <path d="M375.7 1820C388 1822.5 405 1823.5 415 1823.5C428 1823.5 440 1822.5 446.5 1820V1951.5H375.7Z" fill="#50d3f7"/>
  <g fill="#fff">
    <circle cx="389" cy="1824" r="7" opacity=".55"/><circle cx="416.75" cy="1852.5" r="5.5" opacity=".5"/>
    <circle cx="392" cy="1897.5" r="4" opacity=".45"/><circle cx="430" cy="1922" r="5" opacity=".5"/>
  </g>
  <g stroke="#474747" stroke-width="2" fill="none">
    <path d="M428 1704.5H446M412 1716.75H446M428 1725.75H446M436 1740H446"/>
  </g>
  <rect x="375.75" y="1630.75" width="70.75" height="320.75" fill="none" stroke="#474747" stroke-width="3"/>
</g>


</svg>
</body></html>
